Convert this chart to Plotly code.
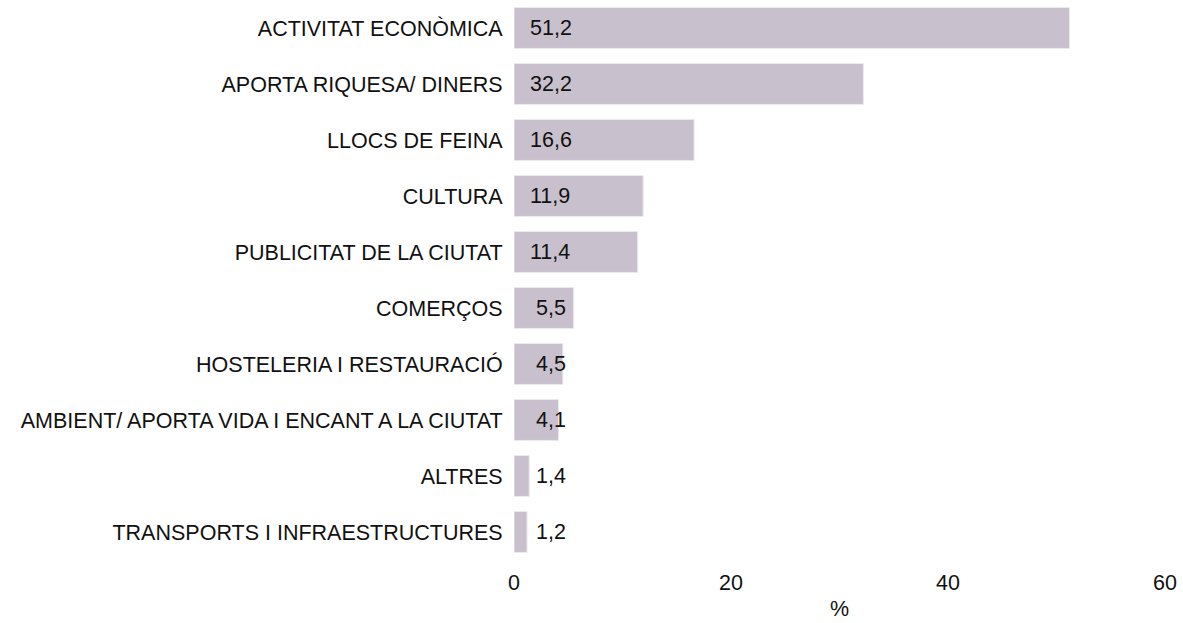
import plotly.graph_objects as go

categories = [
    "ACTIVITAT ECONÒMICA",
    "APORTA RIQUESA/ DINERS",
    "LLOCS DE FEINA",
    "CULTURA",
    "PUBLICITAT DE LA CIUTAT",
    "COMERÇOS",
    "HOSTELERIA I RESTAURACIÓ",
    "AMBIENT/ APORTA VIDA I ENCANT A LA CIUTAT",
    "ALTRES",
    "TRANSPORTS I INFRAESTRUCTURES",
]
values = [51.2, 32.2, 16.6, 11.9, 11.4, 5.5, 4.5, 4.1, 1.4, 1.2]
x_ticks = [0, 20, 40, 60]
x_title = "%"

FONT = "Liberation Sans, Arial, sans-serif"
FS = 21.5

fig = go.Figure()
fig.add_trace(go.Bar(
    y=categories,
    x=values,
    orientation="h",
    marker=dict(color="#c8c0cc", line=dict(color="#ece8ee", width=1)),
    hoverinfo="x+y",
))

for c, v in zip(categories, values):
    fig.add_annotation(
        x=0, y=c, xref="x", yref="y",
        text=f"{v:.1f}".replace(".", ","),
        showarrow=False, xanchor="left", yanchor="middle",
        xshift=14 if v >= 10 else 20,
        font=dict(family=FONT, size=FS, color="#111111"),
    )

# axis title placed below the tick labels
fig.add_annotation(
    x=0.5, y=0, xref="paper", yref="paper",
    text=x_title, showarrow=False,
    xanchor="center", yanchor="middle", yshift=-49,
    font=dict(family=FONT, size=FS, color="#111111"),
)

fig.update_layout(
    width=1183, height=623,
    margin=dict(l=514, r=18, t=0, b=63),
    paper_bgcolor="white", plot_bgcolor="white",
    bargap=0.27,
    showlegend=False,
    font=dict(family=FONT, size=FS, color="#111111"),
    xaxis=dict(
        range=[0, 60], tickvals=x_ticks, ticktext=[str(t) for t in x_ticks],
        showgrid=False, zeroline=False, showline=False,
        ticks="outside", ticklen=3, tickcolor="rgba(0,0,0,0)",
        tickfont=dict(size=FS),
        automargin=False,
    ),
    yaxis=dict(
        categoryorder="array", categoryarray=categories[::-1],
        showgrid=False, zeroline=False, showline=False,
        ticks="outside", ticklen=6, tickcolor="rgba(0,0,0,0)",
        tickfont=dict(size=FS),
        automargin=False,
    ),
)

fig.write_html(
    "out.html",
    config={"displayModeBar": False},
    post_script="document.body.style.margin='0';document.body.style.overflow='hidden';",
)
